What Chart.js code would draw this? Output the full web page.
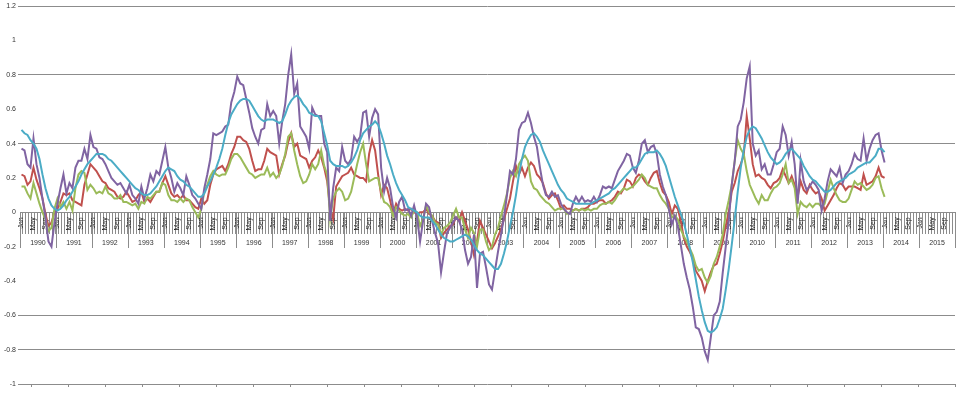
<!DOCTYPE html>
<html>
<head>
<meta charset="utf-8">
<script src="https://cdn.jsdelivr.net/npm/chart.js@4.4.0/dist/chart.umd.min.js"></script>
<style>
  html, body { margin: 0; padding: 0; background: #fff; }
  canvas { display: block; }
</style>
</head>
<body>
<canvas id="grafico" width="960" height="395"></canvas>
<script>
var anos = [1990, 1991, 1992, 1993, 1994, 1995, 1996, 1997, 1998, 1999, 2000, 2001, 2002,
            2003, 2004, 2005, 2006, 2007, 2008, 2009, 2010, 2011, 2012, 2013, 2014, 2015];
var meses = ['Jan', 'Feb', 'Mar', 'Apr', 'May', 'Jun', 'Jul', 'Aug', 'Sep', 'Oct', 'Nov', 'Dec'];

// monthly values, Jan 1990 .. Jan 2014 (one row per year)
var serieRoxa = [
  0.37, 0.36, 0.28, 0.26, 0.43, 0.28, 0.20, 0.08, -0.03, -0.17, -0.20, -0.06,
  0.05, 0.14, 0.22, 0.11, 0.17, 0.14, 0.26, 0.30, 0.30, 0.37, 0.31, 0.45,
  0.38, 0.37, 0.32, 0.31, 0.28, 0.24, 0.20, 0.18, 0.16, 0.17, 0.14, 0.11,
  0.16, 0.10, 0.08, 0.05, 0.15, 0.08, 0.14, 0.22, 0.18, 0.24, 0.22, 0.30,
  0.38, 0.26, 0.20, 0.12, 0.17, 0.14, 0.10, 0.21, 0.16, 0.10, 0.08, 0.05,
  0.02, 0.14, 0.22, 0.31, 0.46, 0.45, 0.46, 0.47, 0.50, 0.51, 0.64, 0.70,
  0.79, 0.75, 0.74, 0.66, 0.58, 0.49, 0.44, 0.40, 0.48, 0.49, 0.63, 0.56,
  0.59, 0.56, 0.40, 0.53, 0.63, 0.80, 0.92, 0.69, 0.75, 0.50, 0.47, 0.44,
  0.37, 0.61, 0.57, 0.56, 0.56, 0.40, 0.35, -0.05, 0.14, 0.26, 0.24, 0.38,
  0.30, 0.28, 0.31, 0.44, 0.41, 0.44, 0.58, 0.59, 0.44, 0.55, 0.60, 0.57,
  0.26, 0.12, 0.20, 0.14, 0.03, -0.03, 0.06, 0.09, 0.01, 0.02, -0.02, 0.04,
  -0.03, -0.17, -0.05, 0.05, 0.03, -0.05, -0.12, -0.18, -0.35, -0.23, -0.12, -0.09,
  -0.06, -0.03, -0.05, -0.10, -0.22, -0.30, -0.26, -0.13, -0.44, -0.24, -0.23, -0.32,
  -0.42, -0.45, -0.34, -0.23, -0.13, -0.03, 0.10, 0.24, 0.22, 0.31, 0.48, 0.52,
  0.53, 0.58, 0.52, 0.44, 0.38, 0.26, 0.16, 0.10, 0.09, 0.12, 0.09, 0.10,
  0.05, 0.02, 0.00, -0.01, 0.05, 0.09, 0.06, 0.09, 0.06, 0.07, 0.06, 0.09,
  0.06, 0.10, 0.15, 0.14, 0.15, 0.14, 0.19, 0.24, 0.27, 0.30, 0.34, 0.33,
  0.26, 0.23, 0.30, 0.40, 0.42, 0.35, 0.38, 0.39, 0.34, 0.22, 0.15, 0.10,
  0.02, -0.07, -0.02, -0.08, -0.19, -0.30, -0.38, -0.45, -0.55, -0.67, -0.68, -0.73,
  -0.81, -0.86, -0.73, -0.60, -0.58, -0.52, -0.35, -0.20, -0.05, 0.16, 0.30, 0.50,
  0.54, 0.64, 0.78, 0.85, 0.40, 0.33, 0.36, 0.25, 0.28, 0.22, 0.22, 0.28,
  0.35, 0.37, 0.50, 0.45, 0.33, 0.41, 0.28, 0.05, 0.30, 0.18, 0.13, 0.15,
  0.18, 0.16, 0.13, 0.01, 0.08, 0.18, 0.25, 0.23, 0.21, 0.26, 0.17, 0.22,
  0.24, 0.28, 0.34, 0.31, 0.30, 0.43, 0.30, 0.37, 0.42, 0.45, 0.46, 0.36,
  0.29
];

var serieVermelha = [
  0.22, 0.21, 0.16, 0.18, 0.26, 0.19, 0.14, 0.08, -0.01, -0.08, -0.06, 0.00,
  0.02, 0.06, 0.11, 0.10, 0.11, 0.07, 0.06, 0.05, 0.04, 0.16, 0.22, 0.28,
  0.26, 0.24, 0.21, 0.18, 0.17, 0.14, 0.13, 0.12, 0.09, 0.08, 0.09, 0.12,
  0.09, 0.06, 0.07, 0.10, 0.12, 0.06, 0.08, 0.06, 0.09, 0.12, 0.12, 0.17,
  0.21, 0.16, 0.11, 0.09, 0.10, 0.08, 0.10, 0.07, 0.07, 0.05, 0.03, 0.02,
  0.08, 0.05, 0.07, 0.16, 0.22, 0.25, 0.26, 0.27, 0.24, 0.28, 0.34, 0.38,
  0.44, 0.44, 0.42, 0.41, 0.37, 0.30, 0.24, 0.25, 0.25, 0.30, 0.37, 0.35,
  0.34, 0.33, 0.22, 0.28, 0.33, 0.41, 0.46, 0.38, 0.40, 0.33, 0.32, 0.31,
  0.26, 0.30, 0.32, 0.36, 0.32, 0.26, 0.18, 0.02, -0.04, 0.15, 0.18, 0.21,
  0.22, 0.23, 0.26, 0.22, 0.21, 0.20, 0.20, 0.18, 0.34, 0.42, 0.36, 0.22,
  0.10, 0.16, 0.14, 0.07, -0.01, 0.05, 0.02, 0.01, 0.02, 0.01, 0.02, 0.00,
  -0.01, 0.00, 0.00, 0.02, -0.01, -0.02, -0.05, -0.06, -0.15, -0.12, -0.10, -0.08,
  -0.07, -0.03, -0.05, 0.00, -0.05, -0.10, -0.17, -0.25, -0.17, -0.05, -0.09, -0.13,
  -0.17, -0.21, -0.18, -0.14, -0.10, -0.04, 0.02, 0.08, 0.18, 0.27, 0.22, 0.26,
  0.21, 0.26, 0.29, 0.27, 0.22, 0.20, 0.17, 0.11, 0.08, 0.10, 0.11, 0.07,
  0.02, 0.04, 0.02, 0.02, 0.01, 0.02, 0.01, 0.02, 0.02, 0.03, 0.05, 0.05,
  0.06, 0.07, 0.07, 0.05, 0.06, 0.07, 0.09, 0.12, 0.11, 0.14, 0.19, 0.18,
  0.15, 0.20, 0.22, 0.21, 0.18, 0.16, 0.20, 0.23, 0.24, 0.17, 0.12, 0.10,
  0.06, -0.01, 0.04, 0.02, -0.05, -0.15, -0.20, -0.23, -0.27, -0.34, -0.37, -0.40,
  -0.46, -0.40, -0.35, -0.31, -0.30, -0.24, -0.17, -0.08, 0.00, 0.12, 0.17, 0.24,
  0.28, 0.33, 0.56, 0.43, 0.28, 0.21, 0.22, 0.20, 0.19, 0.16, 0.14, 0.17,
  0.18, 0.20, 0.25, 0.21, 0.17, 0.21, 0.16, 0.09, 0.18, 0.13, 0.11, 0.16,
  0.13, 0.11, 0.12, 0.08, 0.01, 0.04, 0.07, 0.10, 0.14, 0.17, 0.16, 0.13,
  0.15, 0.15, 0.15, 0.14, 0.13, 0.22, 0.16, 0.17, 0.18, 0.21, 0.26, 0.21,
  0.20
];

var serieVerde = [
  0.15, 0.15, 0.11, 0.08, 0.17, 0.11, 0.05, 0.00, -0.04, -0.11, -0.09, 0.02,
  0.08, 0.03, 0.06, 0.02, 0.06, 0.01, 0.14, 0.22, 0.24, 0.23, 0.13, 0.16,
  0.14, 0.11, 0.12, 0.11, 0.15, 0.11, 0.10, 0.08, 0.08, 0.10, 0.06, 0.06,
  0.05, 0.04, 0.05, 0.02, 0.06, 0.05, 0.09, 0.08, 0.10, 0.12, 0.12, 0.17,
  0.16, 0.10, 0.07, 0.07, 0.06, 0.08, 0.06, 0.08, 0.07, 0.03, 0.00, -0.03,
  0.02, 0.12, 0.16, 0.21, 0.24, 0.22, 0.21, 0.22, 0.22, 0.26, 0.31, 0.34,
  0.34, 0.32, 0.29, 0.26, 0.23, 0.22, 0.20, 0.21, 0.22, 0.22, 0.26, 0.21,
  0.23, 0.20, 0.22, 0.27, 0.34, 0.44, 0.46, 0.36, 0.28, 0.21, 0.17, 0.18,
  0.22, 0.28, 0.25, 0.28, 0.36, 0.27, 0.22, -0.04, 0.08, 0.12, 0.14, 0.12,
  0.07, 0.08, 0.12, 0.20, 0.28, 0.35, 0.40, 0.28, 0.18, 0.19, 0.20, 0.20,
  0.12, 0.06, 0.05, 0.03, -0.02, 0.03, 0.01, -0.01, -0.02, -0.01, -0.03, 0.01,
  0.00, -0.08, -0.04, 0.04, 0.00, -0.02, -0.06, -0.07, -0.13, -0.09, -0.08, -0.06,
  -0.02, 0.02, -0.03, -0.03, -0.10, -0.15, -0.09, -0.12, -0.20, -0.10, -0.10, -0.17,
  -0.22, -0.20, -0.13, -0.09, -0.02, 0.04, 0.11, 0.20, 0.24, 0.21, 0.28, 0.31,
  0.33, 0.30, 0.18, 0.14, 0.13, 0.10, 0.08, 0.06, 0.05, 0.03, 0.01, 0.02,
  0.02, 0.02, -0.01, 0.00, 0.01, 0.02, 0.01, 0.02, 0.01, 0.02, 0.01, 0.02,
  0.02, 0.04, 0.05, 0.05, 0.06, 0.05, 0.07, 0.10, 0.12, 0.14, 0.13, 0.14,
  0.15, 0.17, 0.19, 0.22, 0.20, 0.16, 0.15, 0.14, 0.14, 0.10, 0.07, 0.05,
  0.02, -0.03, -0.02, -0.04, -0.10, -0.14, -0.17, -0.21, -0.25, -0.31, -0.34, -0.33,
  -0.38, -0.41, -0.37, -0.30, -0.26, -0.20, -0.13, -0.01, 0.07, 0.16, 0.30, 0.42,
  0.37, 0.34, 0.24, 0.16, 0.12, 0.08, 0.05, 0.10, 0.07, 0.07, 0.11, 0.14,
  0.15, 0.17, 0.22, 0.28, 0.17, 0.19, 0.14, -0.01, 0.06, 0.04, 0.03, 0.05,
  0.03, 0.05, 0.05, 0.03, 0.05, 0.12, 0.19, 0.14, 0.10, 0.07, 0.06, 0.06,
  0.08, 0.13, 0.18, 0.16, 0.17, 0.15, 0.13, 0.14, 0.16, 0.20, 0.21, 0.14,
  0.09
];

var serieAzul = [
  0.48, 0.46, 0.45, 0.42, 0.40, 0.37, 0.31, 0.22, 0.14, 0.08, 0.04, 0.02,
  0.01, 0.02, 0.04, 0.07, 0.09, 0.12, 0.15, 0.18, 0.22, 0.25, 0.28, 0.30,
  0.32, 0.34, 0.34, 0.34, 0.33, 0.31, 0.30, 0.28, 0.26, 0.24, 0.22, 0.20,
  0.18, 0.16, 0.14, 0.13, 0.11, 0.10, 0.10, 0.11, 0.13, 0.15, 0.18, 0.21,
  0.24, 0.26, 0.25, 0.24, 0.21, 0.19, 0.18, 0.16, 0.15, 0.13, 0.11, 0.09,
  0.09, 0.11, 0.15, 0.18, 0.22, 0.26, 0.31, 0.37, 0.45, 0.52, 0.57, 0.60,
  0.63, 0.65, 0.66, 0.66, 0.65, 0.62, 0.59, 0.56, 0.54, 0.53, 0.54, 0.54,
  0.54, 0.53, 0.52, 0.53, 0.57, 0.62, 0.65, 0.67, 0.68, 0.66, 0.63, 0.61,
  0.58, 0.57, 0.56, 0.56, 0.53, 0.46, 0.39, 0.30, 0.28, 0.27, 0.27, 0.27,
  0.26, 0.27, 0.29, 0.32, 0.36, 0.42, 0.46, 0.48, 0.50, 0.51, 0.53, 0.51,
  0.46, 0.40, 0.33, 0.28, 0.22, 0.17, 0.13, 0.10, 0.07, 0.03, 0.02, 0.01,
  0.00, -0.02, -0.03, -0.03, -0.03, -0.05, -0.07, -0.10, -0.13, -0.15, -0.16, -0.17,
  -0.17, -0.16, -0.15, -0.14, -0.13, -0.14, -0.16, -0.19, -0.22, -0.24, -0.25, -0.27,
  -0.29, -0.31, -0.33, -0.33, -0.30, -0.24, -0.17, -0.08, 0.00, 0.10, 0.22, 0.31,
  0.38, 0.42, 0.45, 0.46, 0.44, 0.41, 0.36, 0.32, 0.28, 0.24, 0.20, 0.16,
  0.13, 0.11, 0.08, 0.07, 0.06, 0.05, 0.05, 0.05, 0.05, 0.05, 0.05, 0.06,
  0.07, 0.08, 0.09, 0.10, 0.11, 0.13, 0.14, 0.16, 0.18, 0.20, 0.22, 0.24,
  0.26, 0.26, 0.28, 0.31, 0.34, 0.35, 0.35, 0.35, 0.36, 0.34, 0.31, 0.27,
  0.21, 0.15, 0.09, 0.04, -0.01, -0.06, -0.13, -0.21, -0.29, -0.39, -0.49, -0.57,
  -0.64, -0.69, -0.70, -0.69, -0.67, -0.62, -0.56, -0.45, -0.33, -0.19, -0.04, 0.12,
  0.26, 0.36, 0.44, 0.48, 0.50, 0.49, 0.46, 0.43, 0.39, 0.35, 0.32, 0.30,
  0.28, 0.29, 0.31, 0.34, 0.36, 0.37, 0.35, 0.33, 0.31, 0.27, 0.24, 0.21,
  0.19, 0.18, 0.16, 0.14, 0.12, 0.12, 0.13, 0.15, 0.17, 0.18, 0.19, 0.20,
  0.22, 0.23, 0.24, 0.26, 0.27, 0.28, 0.29, 0.29, 0.31, 0.33, 0.37, 0.37,
  0.35
];

// only these grid lines show in the picture
var linhasGrade = [1.2, 0.8, 0.4, -0.6, -0.8, -1];

var rotulos = [];
for (var a = 0; a < anos.length; a++) {
  for (var m = 0; m < 12; m++) {
    rotulos.push(meses[m]);
  }
}

var corEixo = '#8c8c8c';

// year row under the month labels
var anosPlugin = {
  id: 'anos',
  beforeDatasetsDraw: function (chart) {
    var ctx = chart.ctx;
    var x = chart.scales.x;
    var y = chart.scales.y;
    var y0 = Math.round(y.getPixelForValue(0));
    var meio = (x.getPixelForValue(1) - x.getPixelForValue(0)) / 2;
    ctx.save();
    ctx.strokeStyle = corEixo;
    ctx.lineWidth = 1;
    ctx.fillStyle = '#333';
    ctx.font = '7px "Liberation Sans", Arial, sans-serif';
    ctx.textAlign = 'center';
    ctx.textBaseline = 'middle';
    for (var k = 0; k <= anos.length; k++) {
      var px = Math.round(x.getPixelForValue(k * 12) - meio) + 0.5;
      ctx.beginPath();
      ctx.moveTo(px, y0);
      ctx.lineTo(px, y0 + 36);
      ctx.stroke();
      if (k < anos.length) {
        ctx.fillText(String(anos[k]), x.getPixelForValue(k * 12 + 5.5), y0 + 31);
      }
    }
    ctx.restore();
  }
};

function linha(dados, cor) {
  return {
    data: dados,
    borderColor: cor,
    backgroundColor: cor,
    borderWidth: 2,
    pointRadius: 0,
    tension: 0,
    fill: false
  };
}

var grafico = new Chart(document.getElementById('grafico'), {
  type: 'line',
  data: {
    labels: rotulos,
    datasets: [
      linha(serieAzul, '#4BACC6'),
      linha(serieRoxa, '#8064A2'),
      linha(serieVerde, '#9BBB59'),
      linha(serieVermelha, '#C0504D')
    ]
  },
  options: {
    responsive: false,
    animation: false,
    devicePixelRatio: 1,
    layout: { padding: { left: 0, right: 5, top: 5, bottom: 11 } },
    plugins: {
      legend: { display: false },
      tooltip: { enabled: false }
    },
    scales: {
      x: {
        type: 'category',
        offset: true,
        position: { y: 0 },
        afterFit: function (s) { s.height = 0; },
        grid: {
          offset: true,
          drawOnChartArea: false,
          drawTicks: true,
          tickLength: 21,
          color: corEixo
        },
        border: { display: true, color: corEixo, width: 1 },
        ticks: {
          autoSkip: false,
          minRotation: 90,
          maxRotation: 90,
          padding: -16,
          color: '#222',
          font: { family: '"Liberation Sans", Arial, sans-serif', size: 7 },
          callback: function (v, i) {
            return i % 4 === 0 ? this.getLabelForValue(v) : '';
          }
        }
      },
      x2: {
        type: 'linear',
        position: 'bottom',
        min: -0.32,
        max: 25,
        afterFit: function (s) { s.height = 0; },
        grid: { drawOnChartArea: false, tickLength: 3, color: corEixo },
        border: { display: false },
        ticks: { display: false, stepSize: 1, includeBounds: false }
      },
      y: {
        min: -1,
        max: 1.2,
        afterFit: function (s) { s.width = 20; },
        border: { display: false },
        grid: {
          tickLength: 2,
          color: function (c) {
            var v = Math.round(c.tick.value * 10) / 10;
            return linhasGrade.indexOf(v) >= 0 ? corEixo : 'rgba(0,0,0,0)';
          }
        },
        ticks: {
          stepSize: 0.2,
          padding: 2,
          color: '#333',
          font: { family: '"Liberation Sans", Arial, sans-serif', size: 7 },
          callback: function (v) { return String(Math.round(v * 10) / 10); }
        }
      }
    }
  },
  plugins: [anosPlugin]
});
</script>
</body>
</html>
